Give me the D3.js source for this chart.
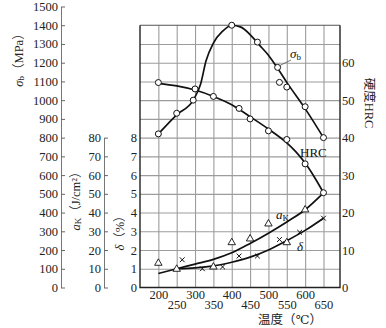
<!DOCTYPE html>
<html><head><meta charset="utf-8">
<script src="https://cdn.jsdelivr.net/npm/d3@7"></script>
<style>body{margin:0;background:#fff}svg{display:block}</style>
</head><body>
<svg id="c" width="386" height="328"></svg>
<script>
// ---- data ----
const xTicks = [200,250,300,350,400,450,500,550,600,650];
const sigmaTicks = [0,100,200,300,400,500,600,700,800,900,1000,1100,1200,1300,1400,1500];
const sigmaGrid = [100,200,300,400,500,600,700,800,900,1000,1100,1200,1300];
const akTicks = [0,10,20,30,40,50,60,70,80];
const deltaTicks = [0,1,2,3,4,5,6,7,8];
const hrcTicks = [0,10,20,30,40,50,60];

// sigma_b (MPa) measured points and fitted curve
const sigmaT = [200,250,295,400,470,525,530,550,600,650];
const sigmaV = [820,930,1000,1400,1310,1175,1095,1070,965,800];
const sigmaCurveT = [200,250,295,315,330,350,375,400,425,450,475,500,525,550,600,650];
const sigmaCurveV = [820,922,1000,1085,1210,1305,1368,1400,1390,1350,1295,1240,1170,1095,955,800];

// hardness HRC
const hrcT = [200,300,350,420,450,500,550,600,650];
const hrcV = [54.7,53,51,47.8,45,41.8,39.5,33,25.3];
const hrcCurveT = [200,250,300,350,400,450,500,550,575,600,625,650];
const hrcCurveV = [54.5,53.8,52.7,51,48.8,45.6,42.3,38.6,36.2,33.2,29.5,25.3];

// impact toughness aK (J/cm2)
const akT = [200,250,350,400,450,500,550,600];
const akV = [13,9.8,11,24,26,34,24,41.5];
const akCurveT = [200,250,300,350,400,450,500,550,600,650];
const akCurveV = [7.5,10,12.5,15,18.5,23.5,29,35,41.5,50.5];

// elongation delta (%)
const deltaT = [265,320,375,420,470,530,585,650];
const deltaV = [1.48,1.0,1.1,1.68,1.68,2.56,2.95,3.7];
const deltaCurveT = [250,300,350,400,450,500,550,600,650];
const deltaCurveV = [1.0,1.05,1.15,1.35,1.62,2.0,2.5,3.05,3.7];

// ---- scales ----
const x = d3.scaleLinear().domain([150,695]).range([140,340]);
const yS = d3.scaleLinear().domain([0,1500]).range([287.5,6.5]);
const yAK = d3.scaleLinear().domain([0,80]).range([yS(0), yS(800)]);
const yD = d3.scaleLinear().domain([0,8]).range([yS(0), yS(800)]);
const yH = d3.scaleLinear().domain([0,70]).range([yS(0), yS(1400)]);
const yTop = yS(1400), yBot = yS(0), xL = x(150), xR = x(695);

const serif = "Liberation Serif, DejaVu Serif, Noto Sans CJK SC, serif";
const fmt = d3.format("d");
const svg = d3.select("#c");
svg.append("rect").attr("width",386).attr("height",328).attr("fill","#fff");

// ---- grid ----
svg.append("g").attr("transform",`translate(0,${yBot})`)
  .call(d3.axisBottom(x).tickValues(xTicks).tickSize(-(yBot-yTop)).tickFormat(""))
  .call(g=>{g.select(".domain").remove();g.selectAll("line").attr("stroke","#9c9c9c").attr("stroke-width",1.1);});
svg.append("g").attr("transform",`translate(${xL},0)`)
  .call(d3.axisLeft(yS).tickValues(sigmaGrid).tickSize(-(xR-xL)).tickFormat(""))
  .call(g=>{g.select(".domain").remove();g.selectAll("line").attr("stroke","#9c9c9c").attr("stroke-width",1.1);});

// ---- frame ----
const fr = svg.append("g").attr("fill","none");
fr.append("line").attr("x1",xL).attr("x2",xR).attr("y1",yTop).attr("y2",yTop).attr("stroke","#555").attr("stroke-width",1.1);
fr.append("path").attr("d",`M${xL},${yTop}V${yBot}H${xR}V${yTop}`).attr("stroke","#222").attr("stroke-width",1.4);

function styleAxis(g){
  g.attr("font-family",serif).attr("font-size",12.5);
  g.selectAll("text").attr("font-family",serif).attr("font-size",12.5).attr("fill","#222");
  g.selectAll("line").attr("stroke","#666");
  g.select(".domain").attr("stroke","#777");
}
// sigma_b axis
svg.append("g").attr("transform","translate(61,0)")
  .call(d3.axisLeft(yS).tickValues(sigmaTicks).tickFormat(fmt).tickSizeInner(-4).tickSizeOuter(0).tickPadding(3))
  .call(styleAxis);
// aK axis
svg.append("g").attr("transform","translate(104,0)")
  .call(d3.axisLeft(yAK).tickValues(akTicks).tickFormat(fmt).tickSizeInner(-4).tickSizeOuter(0).tickPadding(3))
  .call(styleAxis);
// delta axis
svg.append("g").attr("transform",`translate(${xL},0)`)
  .call(d3.axisLeft(yD).tickValues(deltaTicks).tickFormat(fmt).tickSize(0).tickPadding(3))
  .call(styleAxis).call(g=>g.select(".domain").remove());
// HRC axis
svg.append("g").attr("transform",`translate(${xR},0)`)
  .call(d3.axisRight(yH).tickValues(hrcTicks).tickFormat(fmt).tickSize(0).tickPadding(2))
  .call(styleAxis).call(g=>g.select(".domain").remove());
// x axis labels (two staggered rows)
svg.append("g").attr("transform",`translate(0,${yBot})`)
  .call(d3.axisBottom(x).tickValues(xTicks).tickFormat(fmt).tickSize(0))
  .call(styleAxis).call(g=>g.select(".domain").remove())
  .call(g=>g.selectAll(".tick text").attr("y",(d,i)=> i%2===0 ? 2.5 : 13));

// ---- curves ----
const curveG = svg.append("g").attr("fill","none").attr("stroke","#111").attr("stroke-width",1.7);
function drawCurve(T,V,ys){
  const line = d3.line().x(d=>x(d[0])).y(d=>ys(d[1])).curve(d3.curveMonotoneX);
  curveG.append("path").attr("d",line(T.map((t,i)=>[t,V[i]])));
}
drawCurve(sigmaCurveT,sigmaCurveV,yS);
drawCurve(hrcCurveT,hrcCurveV,yH);
drawCurve(akCurveT,akCurveV,yAK);
drawCurve(deltaCurveT,deltaCurveV,yD);

// ---- markers ----
const mk = svg.append("g");
function circles(T,V,ys){
  mk.selectAll(null).data(T.map((t,i)=>[t,V[i]])).enter().append("circle")
    .attr("cx",d=>x(d[0])).attr("cy",d=>ys(d[1])).attr("r",3)
    .attr("fill","#fff").attr("stroke","#111").attr("stroke-width",1);
}
circles(sigmaT,sigmaV,yS);
circles(hrcT,hrcV,yH);
const tri = d3.symbol().type(d3.symbolTriangle).size(24);
mk.selectAll(null).data(akT.map((t,i)=>[t,akV[i]])).enter().append("path")
  .attr("d",tri).attr("transform",d=>`translate(${x(d[0])},${yAK(d[1])})`)
  .attr("fill","#fff").attr("stroke","#111").attr("stroke-width",0.9);
mk.selectAll(null).data(deltaT.map((t,i)=>[t,deltaV[i]])).enter().append("path")
  .attr("d",d=>{const cx=x(d[0]),cy=yD(d[1]),s=2.4;return `M${cx-s},${cy-s}L${cx+s},${cy+s}M${cx-s},${cy+s}L${cx+s},${cy-s}`;})
  .attr("stroke","#111").attr("stroke-width",1).attr("fill","none");

// ---- in-plot labels ----
svg.append("line").attr("x1",x(525)+1.5).attr("y1",yS(1175)-1.5).attr("x2",291).attr("y2",60)
  .attr("stroke","#555").attr("stroke-width",0.8);
const lab = (xx,yy)=>svg.append("text").attr("x",xx).attr("y",yy).attr("font-family",serif).attr("font-size",13).attr("fill","#111");
const sb = lab(290,57.5); sb.append("tspan").attr("font-style","italic").text("σ"); sb.append("tspan").attr("font-size",9).attr("dy",2).text("b");
lab(300,157).text("HRC");
const ak = lab(276,219); ak.append("tspan").attr("font-style","italic").text("a"); ak.append("tspan").attr("font-size",9).attr("dy",2).text("K");
lab(297,251).attr("font-style","italic").text("δ");

// ---- axis titles ----
function rot(cx,cy,angle){
  return svg.append("text").attr("transform",`translate(${cx},${cy}) rotate(${angle})`)
    .attr("text-anchor","middle").attr("dominant-baseline","central")
    .attr("font-family",serif).attr("font-size",12.5).attr("fill","#222");
}
const t1 = rot(19,57,-90); t1.append("tspan").attr("font-style","italic").text("σ"); t1.append("tspan").attr("font-size",9).attr("dy",2).text("b"); t1.append("tspan").attr("dy",-2).text("（MPa）");
const t2 = rot(76,198,-90); t2.append("tspan").attr("font-style","italic").text("a"); t2.append("tspan").attr("font-size",9).attr("dy",2).text("K"); t2.append("tspan").attr("dy",-2).text("（J/cm²）");
const t3 = rot(120,230,-90); t3.append("tspan").attr("font-style","italic").text("δ"); t3.append("tspan").text("（%）");
rot(369,103,90).text("硬度HRC");
svg.append("text").attr("x",290).attr("y",320).attr("text-anchor","middle").attr("dominant-baseline","central")
  .attr("font-family",serif).attr("font-size",12.5).attr("fill","#222").text("温度（℃）");
</script>
</body></html>
